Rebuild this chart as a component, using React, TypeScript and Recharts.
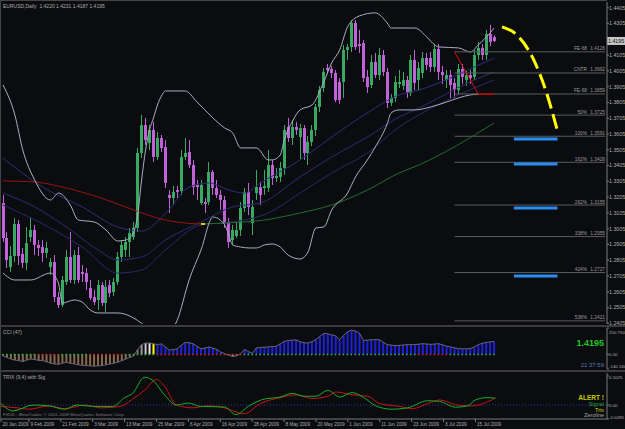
import React from "react";
import {
  ComposedChart,
  Bar,
  Line,
  XAxis,
  YAxis,
  ReferenceLine,
  Cell,
} from "recharts";

const FONT = '"Liberation Sans", Arial, Helvetica, sans-serif';
const BG = "#0b0c0f";
const FRAME = "#454545";
const AXIS = "#7a7a7a";
const LABEL = "#acacac";
const UP = "#38a862";
const DOWN = "#c262d8";

const TOTAL_BARS = 153;

// daily bars, [open, high, low, close]
const candles: [number, number, number, number][] = [
  [1.3168, 1.3219, 1.2921, 1.2946], [1.2946, 1.2984, 1.2756, 1.2807], [1.2762, 1.2895, 1.2731, 1.2832],
  [1.2832, 1.3073, 1.2794, 1.3035], [1.3035, 1.306, 1.2775, 1.2832], [1.2845, 1.2883, 1.2756, 1.2788],
  [1.2788, 1.3016, 1.2743, 1.2914], [1.2952, 1.3073, 1.2921, 1.2997], [1.2997, 1.3029, 1.2838, 1.2902],
  [1.2902, 1.2933, 1.2832, 1.2883], [1.2889, 1.2933, 1.2794, 1.2851], [1.2851, 1.2921, 1.2819, 1.2883],
  [1.2762, 1.2819, 1.2712, 1.2794], [1.2794, 1.2838, 1.254, 1.2572], [1.2572, 1.2604, 1.2502, 1.2521],
  [1.2521, 1.2705, 1.2509, 1.268], [1.2667, 1.287, 1.2648, 1.2826], [1.2826, 1.2984, 1.2661, 1.268],
  [1.268, 1.287, 1.2654, 1.2838], [1.2838, 1.2889, 1.2661, 1.268], [1.2731, 1.2775, 1.2667, 1.2718],
  [1.2724, 1.2756, 1.2617, 1.2667], [1.2629, 1.268, 1.2553, 1.2566], [1.2572, 1.2617, 1.2521, 1.254],
  [1.2553, 1.268, 1.249, 1.2648], [1.2648, 1.2667, 1.2515, 1.2534], [1.2534, 1.268, 1.2477, 1.2636],
  [1.2648, 1.268, 1.2572, 1.2597], [1.2604, 1.2693, 1.2578, 1.2667], [1.2667, 1.2857, 1.2648, 1.2826],
  [1.2826, 1.2933, 1.2794, 1.2902], [1.287, 1.2952, 1.2826, 1.2921], [1.2921, 1.301, 1.2826, 1.2978],
  [1.2952, 1.3048, 1.2933, 1.301], [1.301, 1.3517, 1.2984, 1.3485], [1.3485, 1.3726, 1.3453, 1.3662],
  [1.3662, 1.3707, 1.3536, 1.3567], [1.3548, 1.3662, 1.3504, 1.3631], [1.3631, 1.3682, 1.3428, 1.346],
  [1.346, 1.3618, 1.3441, 1.358], [1.358, 1.3599, 1.3491, 1.3517], [1.3523, 1.3567, 1.3263, 1.3295],
  [1.3219, 1.325, 1.3105, 1.32], [1.32, 1.3276, 1.3155, 1.3238], [1.325, 1.3276, 1.32, 1.3238],
  [1.3244, 1.3504, 1.3219, 1.346], [1.346, 1.358, 1.3441, 1.3485], [1.3491, 1.3567, 1.339, 1.3409],
  [1.3409, 1.3441, 1.3219, 1.3269], [1.3282, 1.3314, 1.3187, 1.3269], [1.3168, 1.3314, 1.3155, 1.3282],
  [1.3174, 1.32, 1.3105, 1.3162], [1.3174, 1.3428, 1.3155, 1.3365], [1.3365, 1.3377, 1.3219, 1.3263],
  [1.3263, 1.3314, 1.32, 1.3219], [1.3219, 1.325, 1.3124, 1.3187], [1.3187, 1.3212, 1.301, 1.3041],
  [1.3048, 1.3073, 1.2883, 1.2921], [1.2933, 1.3029, 1.2902, 1.2997], [1.2959, 1.3048, 1.2946, 1.2997],
  [1.2997, 1.3174, 1.2959, 1.3136], [1.3136, 1.3263, 1.3111, 1.3238], [1.3238, 1.3295, 1.3092, 1.3143],
  [1.3041, 1.3187, 1.2965, 1.3143], [1.3231, 1.3377, 1.3187, 1.3269], [1.3269, 1.3301, 1.3155, 1.3219],
  [1.3263, 1.3377, 1.3219, 1.3276], [1.3263, 1.3504, 1.3238, 1.3409], [1.3409, 1.3441, 1.3282, 1.3326],
  [1.3326, 1.339, 1.3301, 1.3339], [1.3333, 1.3428, 1.3301, 1.339], [1.339, 1.3662, 1.3346, 1.3631],
  [1.365, 1.3707, 1.3555, 1.358], [1.358, 1.3694, 1.3536, 1.365], [1.365, 1.3682, 1.3599, 1.3631],
  [1.3586, 1.3669, 1.3441, 1.3643], [1.3643, 1.3662, 1.3441, 1.3485], [1.3485, 1.3593, 1.3409, 1.3555],
  [1.3555, 1.3662, 1.3529, 1.3631], [1.3631, 1.3796, 1.3593, 1.3777], [1.3777, 1.391, 1.3745, 1.3884],
  [1.3897, 1.4024, 1.3872, 1.3999], [1.4024, 1.4049, 1.3986, 1.4011], [1.4018, 1.4037, 1.396, 1.3992],
  [1.3992, 1.4011, 1.3808, 1.3821], [1.3935, 1.396, 1.3796, 1.3821], [1.3935, 1.417, 1.3834, 1.4138],
  [1.4138, 1.4176, 1.4075, 1.4157], [1.4157, 1.4328, 1.4125, 1.4309], [1.4309, 1.4328, 1.4138, 1.4157],
  [1.4176, 1.4265, 1.4119, 1.4163], [1.4182, 1.4201, 1.3935, 1.396], [1.3967, 1.4011, 1.3865, 1.3903],
  [1.3916, 1.4106, 1.3897, 1.4062], [1.4062, 1.4119, 1.396, 1.3979], [1.3979, 1.4151, 1.3948, 1.4106],
  [1.4106, 1.4138, 1.3973, 1.3999], [1.3999, 1.4024, 1.377, 1.3802], [1.3802, 1.3859, 1.3783, 1.3834],
  [1.3834, 1.3973, 1.3808, 1.3935], [1.3922, 1.4011, 1.3897, 1.3935], [1.391, 1.3999, 1.3884, 1.3948],
  [1.3948, 1.3973, 1.3834, 1.3865], [1.3865, 1.4106, 1.3846, 1.4075], [1.4075, 1.4138, 1.3884, 1.3929],
  [1.3948, 1.4062, 1.3884, 1.4024], [1.3992, 1.4125, 1.396, 1.4087], [1.4087, 1.4119, 1.4011, 1.4043],
  [1.4087, 1.4125, 1.3999, 1.403], [1.403, 1.4176, 1.3999, 1.4144], [1.4144, 1.4176, 1.3948, 1.3999],
  [1.3999, 1.4037, 1.3922, 1.3979], [1.3948, 1.4011, 1.3897, 1.3979], [1.3979, 1.4011, 1.3834, 1.3916],
  [1.3929, 1.396, 1.3834, 1.3884], [1.3884, 1.4049, 1.3859, 1.4018], [1.4018, 1.4049, 1.3922, 1.3967],
  [1.3948, 1.4011, 1.391, 1.3979], [1.3979, 1.4011, 1.3922, 1.396], [1.3967, 1.4138, 1.3948, 1.4106],
  [1.4106, 1.4189, 1.4075, 1.4151], [1.4151, 1.4176, 1.4075, 1.4106], [1.4106, 1.4265, 1.4075, 1.4239],
  [1.4239, 1.4297, 1.4163, 1.4189], [1.422, 1.4231, 1.4187, 1.4195],
];

// Bollinger bands, [bar, price]
const bbUpper: [number, number][] = [
  [0, 1.3916], [3, 1.3726], [5, 1.3504], [8, 1.3314], [12, 1.3187], [14, 1.3231], [17, 1.3155],
  [19, 1.306], [23, 1.3048], [26, 1.2997], [29, 1.2927], [31, 1.2933], [33, 1.2984], [34, 1.3092],
  [35, 1.3314], [36, 1.3504], [37, 1.3631], [38, 1.3707], [39, 1.3789], [40, 1.3846], [41, 1.3878],
  [46, 1.3878], [49, 1.3808], [53, 1.3707], [56, 1.3643], [58, 1.3612], [60, 1.3517], [64, 1.3517],
  [67, 1.3441], [68, 1.3441], [70, 1.3472], [71, 1.3567], [73, 1.3682], [75, 1.3758], [78, 1.3789],
  [81, 1.3935], [83, 1.4056], [85, 1.4138], [87, 1.4284], [90, 1.4354], [94, 1.4373], [97, 1.4309],
  [98, 1.4277], [104, 1.4277], [107, 1.422], [109, 1.417], [110, 1.4157], [115, 1.4151], [118, 1.4125],
  [120, 1.417], [123, 1.4246], [124, 1.4277],
];
const bbLower: [number, number][] = [
  [0, 1.2724], [3, 1.268], [7, 1.268], [12, 1.2724], [14, 1.2661], [15, 1.2534], [18, 1.2553],
  [20, 1.254], [22, 1.249], [24, 1.2471], [29, 1.2471], [33, 1.2439], [35, 1.2405], [37, 1.236],
  [39, 1.233], [41, 1.233], [43, 1.2375], [44, 1.2426], [47, 1.268], [50, 1.287], [53, 1.3079],
  [56, 1.3029], [57, 1.2965], [58, 1.2902], [60, 1.2889], [62, 1.2883], [64, 1.2883], [66, 1.2902],
  [68, 1.2908], [70, 1.2889], [72, 1.2838], [75, 1.2813], [77, 1.2857], [79, 1.301], [81, 1.3016],
  [83, 1.3124], [87, 1.3231], [89, 1.3333], [92, 1.3441], [94, 1.3523], [97, 1.3669], [98, 1.3739],
  [100, 1.3758], [104, 1.3758], [108, 1.3777], [112, 1.3808], [115, 1.3834], [118, 1.3853],
  [121, 1.3859], [124, 1.3859],
];

// moving average ribbon
const ribbonA: [number, number][] = [
  [0, 1.3453], [10, 1.3269], [20, 1.3143], [29, 1.3016], [35, 1.299], [41, 1.31], [47, 1.3269],
  [52, 1.3295], [57, 1.325], [61, 1.3231], [65, 1.3295], [75, 1.3441], [83, 1.3586], [92, 1.3739],
  [100, 1.3853], [105, 1.3884], [119, 1.403], [124, 1.4087],
];
const ribbonB: [number, number][] = [
  [0, 1.3231], [8, 1.3143], [16, 1.3016], [24, 1.287], [29, 1.2807], [35, 1.2826], [41, 1.2933],
  [50, 1.3048], [58, 1.3143], [65, 1.3168], [75, 1.3333], [83, 1.346], [92, 1.3586], [100, 1.3713],
  [105, 1.377], [119, 1.3948], [124, 1.3999],
];
const ribbonC: [number, number][] = [
  [0, 1.3155], [12, 1.3009], [20, 1.2889], [29, 1.2724], [35, 1.2743], [41, 1.287], [50, 1.3029],
  [58, 1.3048], [67, 1.3105], [75, 1.3231], [83, 1.3358], [92, 1.3485], [100, 1.365], [105, 1.3726],
  [119, 1.3897], [124, 1.3948],
];

// long moving average, coloured by slope
const maFalling: [number, number][] = [
  [0, 1.3308], [8, 1.3301], [16, 1.3263], [24, 1.3206], [33, 1.3124], [39, 1.3073], [46, 1.3041], [50, 1.3035],
];
const maFlat: [number, number][] = [[50, 1.3035], [51, 1.3035]];
const maRising: [number, number][] = [
  [51, 1.3035], [56, 1.3041], [66, 1.306], [75, 1.3105], [83, 1.3155], [92, 1.325], [100, 1.3358],
  [105, 1.3409], [124, 1.3675],
];

// projected path
const projection: [number, number][] = [
  [126, 1.4284], [130, 1.4227], [134, 1.4075], [137, 1.3884], [140, 1.3624],
];

const fibStart = 114;
const fibEnd = 152;
const fibLevels = [
  { tag: "FE-68", price: 1.4126 },
  { tag: "CNTR", price: 1.3992 },
  { tag: "FE-68", price: 1.3859 },
  { tag: "50%", price: 1.3725 },
  { tag: "100%", price: 1.3591 },
  { tag: "162%", price: 1.3426 },
  { tag: "262%", price: 1.3155 },
  { tag: "338%", price: 1.2955 },
  { tag: "424%", price: 1.2727 },
  { tag: "538%", price: 1.2421 },
];
const targetLevels = [1.3574, 1.3415, 1.3136, 1.2705];
const swingDown: [number, number][] = [[114, 1.4126], [120, 1.3859]];
const swingBase: [number, number][] = [[120, 1.3859], [124, 1.3859]];

const priceTicks = [
  1.4405, 1.4305, 1.4105, 1.4005, 1.3905, 1.3805, 1.3705, 1.3605, 1.3505, 1.3405, 1.3305,
  1.3205, 1.3105, 1.3005, 1.2905, 1.2805, 1.2705, 1.2605, 1.2505, 1.2405,
];
const lastClose = 1.4195;

// CCI(47), one value per bar
const cciValues = [
  -15, -30, -45, -55, -60, -70, -55, -45, -50, -58, -60, -72, -85, -92, -95, -85, -77, -85, -92, -100,
  -105, -108, -110, -113, -110, -107, -100, -92, -85, -75, -61, -45, -30, -15,
  46, 92, 107, 107, 100,
  92, 100, 70, 40, 45, 52, 85, 113, 110, 100, 75, 52, 60, 70, 58, 46, 20, 5, -9, -21, -15, 5,
  46, 25, 9, 61, 65, 68, 70, 74, 77, 100, 123, 130, 135, 138, 120, 110, 107, 120, 138, 170,
  200, 195, 185, 175, 138, 180, 215, 230, 222, 200, 132, 135, 138, 140, 138, 115, 92, 88, 83, 85,
  88, 92, 92, 92, 97, 101, 98, 95, 98, 101, 90, 77, 70, 61, 55, 52, 52, 55, 70, 92, 105, 113, 118, 123,
];
// colour runs of the dotted zero line
const cciZeroRuns: [string, number][] = [
  ["#1fbf3a", 9], ["#d02020", 6], ["#1fbf3a", 7], ["#d02020", 9], ["#1fbf3a", 8],
  ["#d02020", 22], ["#1fbf3a", 44], ["#d02020", 8], ["#1fbf3a", 12],
];

// TRIX(9,4) and signal, [bar, value]
const trixLine: [number, number][] = [
  [0, 0.005], [3, -0.021], [8, 0], [12, -0.003], [16, -0.015], [19, 0], [23, -0.005], [28, -0.005],
  [31, 0.026], [33, 0.041], [36, 0.098], [38, 0.088], [41, 0.036], [44, 0], [47, 0.007], [50, -0.005],
  [56, -0.007], [59, -0.034], [62, -0.005], [66, 0.021], [70, 0.028], [73, 0.041], [76, 0.031],
  [79, 0.031], [82, 0.052], [85, 0.028], [88, 0.044], [91, 0.026], [94, -0.003], [98, -0.015],
  [102, -0.01], [107, 0.015], [110, 0.013], [114, -0.008], [117, -0.003], [119, 0.018], [122, 0.026],
  [124, 0.024],
];
const trixSignal: [number, number][] = [
  [0, -0.005], [4, -0.01], [7, -0.015], [12, -0.003], [16, -0.013], [21, 0], [25, -0.01], [30, -0.005],
  [33, 0.021], [36, 0.052], [39, 0.09], [41, 0.067], [44, 0], [48, -0.01], [52, -0.003], [56, -0.01],
  [61, -0.031], [65, 0.005], [70, 0.026], [74, 0.036], [78, 0.023], [82, 0.031], [84, 0.046],
  [88, 0.036], [92, 0.031], [95, 0.005], [100, -0.005], [103, -0.013], [108, 0.01], [110, 0.018],
  [115, -0.002], [118, -0.003], [124, 0.024],
];

const dateTicks: [number, string][] = [
  [0, "20 Jan 2009"], [7, "9 Feb 2009"], [15, "21 Feb 2009"], [23, "3 Mar 2009"], [31, "13 Mar 2009"],
  [39, "25 Mar 2009"], [47, "6 Apr 2009"], [55, "16 Apr 2009"], [63, "28 Apr 2009"], [71, "8 May 2009"],
  [79, "20 May 2009"], [87, "1 Jun 2009"], [95, "11 Jun 2009"], [103, "23 Jun 2009"], [111, "3 Jul 2009"],
  [119, "15 Jul 2009"],
];

const lookup = (pts: [number, number][]) => {
  const m = new Map(pts);
  return (i: number) => (m.has(i) ? (m.get(i) as number) : null);
};
const zeroColors: string[] = [];
cciZeroRuns.forEach(([c, n]) => {
  for (let k = 0; k < n; k++) zeroColors.push(c);
});

const get = {
  bbU: lookup(bbUpper), bbL: lookup(bbLower),
  rA: lookup(ribbonA), rB: lookup(ribbonB), rC: lookup(ribbonC),
  maF: lookup(maFalling), maY: lookup(maFlat), maR: lookup(maRising),
  proj: lookup(projection), trix: lookup(trixLine), sig: lookup(trixSignal),
};

const rows = Array.from({ length: TOTAL_BARS }, (_, i) => {
  const c = candles[i];
  const row: any = { i };
  if (c) {
    row.o = c[0]; row.h = c[1]; row.l = c[2]; row.c = c[3];
    row.range = [c[2], c[1]];
    row.cci = cciValues[i];
    row.zero = 0;
  }
  Object.entries(get).forEach(([k, f]) => {
    row[k] = f(i);
  });
  return row;
});

function Candle(props: any) {
  const { x, y, width, height, payload } = props;
  if (!payload || payload.o == null) return null;
  const { o, h, l, c } = payload;
  const col = c >= o ? UP : DOWN;
  const k = height / (h - l || 1);
  const cx = Math.round(x + width / 2) + 0.5;
  const top = y + (h - Math.max(o, c)) * k;
  const bh = Math.max(1, Math.abs(o - c) * k);
  return (
    <g>
      <line x1={cx} x2={cx} y1={y} y2={y + height} stroke={col} strokeWidth={1} />
      <rect x={cx - 1.5} y={top} width={3} height={bh} fill={col} />
    </g>
  );
}

const lineEnds = (vb: any) => {
  const right = vb.x2 != null ? Math.max(vb.x1, vb.x2) : (vb.x ?? 0) + (vb.width ?? 0);
  const y = vb.y1 != null ? vb.y1 : vb.y ?? 0;
  return { right, y };
};

function FibLabel(props: any) {
  const { right, y } = lineEnds(props.viewBox || {});
  return (
    <g fontFamily={FONT} fontSize={4.8} fill="#9a9a9a">
      <text x={right - 18} y={y - 1.5} textAnchor="end">{props.tag}</text>
      <text x={right} y={y - 1.5} textAnchor="end">{props.lvl.toFixed(4)}</text>
    </g>
  );
}

function PriceTag(props: any) {
  const { right, y } = lineEnds(props.viewBox || {});
  return (
    <g>
      <rect x={right} y={y - 4} width={18} height={8} fill="#c4c4c4" />
      <text x={right + 1} y={y + 2} fontSize={5.3} fontFamily={FONT} fill="#101010">
        {props.lvl.toFixed(4)}
      </text>
    </g>
  );
}

const dateMap = new Map(dateTicks);
function DateTick(props: any) {
  const { x, y, payload } = props;
  return (
    <g>
      <line x1={x} x2={x} y1={y} y2={y + 3} stroke={AXIS} />
      <text x={x + 1.5} y={y + 7} fill={LABEL} fontSize={4.7} fontFamily={FONT}>
        {dateMap.get(payload.value) ?? ""}
      </text>
    </g>
  );
}

// right-hand value label for an indicator pane, kept inside the pane
const paneTick = (fmt: (v: number) => string, lo: number, hi: number) =>
  function PaneTick(props: any) {
    const { x, y, payload } = props;
    const yy = Math.min(Math.max(y, lo), hi);
    return (
      <g>
        <line x1={x} x2={x + 2} y1={y} y2={y} stroke={AXIS} />
        <text x={x + 2} y={yy + 1.7} fontSize={4.4} fontFamily={FONT} fill={LABEL}>
          {fmt(payload.value)}
        </text>
      </g>
    );
  };
const CciTick = paneTick((v) => (v === 0 ? "0.00" : v.toFixed(3)), 5, 39);
const TrixTick = paneTick((v) => (v === 0 ? "0.00" : v.toFixed(4)), 5, 45);

function ZeroDot(props: any) {
  const { cx, cy, index } = props;
  if (cy == null || index >= zeroColors.length) return <g key={`z${index}`} />;
  return <rect key={`z${index}`} x={cx - 1} y={cy - 0.5} width={1.5} height={1.5} fill={zeroColors[index]} />;
}

function cciColor(i: number, v: number) {
  if (i < 34) return "#8a6a4e";
  if (i === 34) return "#6e6e6e";
  if (i === 35) return "#9c9c9c";
  if (i === 36) return "#c4c4c4";
  if (i === 37) return "#e4e4e4";
  if (i === 38) return "#ffff00";
  return v < 0 ? "#a0a0b0" : "#2020dc";
}

const thin = { dot: false, isAnimationActive: false, connectNulls: true, activeDot: false } as const;

const text = (extra: React.CSSProperties): React.CSSProperties => ({
  position: "absolute",
  fontFamily: FONT,
  fontSize: 5,
  lineHeight: 1,
  whiteSpace: "nowrap",
  color: LABEL,
  ...extra,
});

export default function App() {
  return (
    <div style={{ position: "relative", width: 625, height: 429, background: BG, overflow: "hidden" }}>
      <style>{"body{margin:0;background:#0b0c0f}"}</style>

      <div style={{ position: "absolute", left: 0, top: 0 }}>
        <ComposedChart width={625} height={325} data={rows} margin={{ top: 2, right: 0, bottom: 1, left: 1 }}>
          <XAxis dataKey="i" hide />
          <YAxis
            orientation="right"
            width={18}
            domain={[1.2401, 1.4442]}
            allowDataOverflow
            ticks={priceTicks}
            interval={0}
            tickFormatter={(v: number) => v.toFixed(4)}
            tick={{ fill: LABEL, fontSize: 5.3, fontFamily: FONT }}
            tickSize={2}
            tickMargin={0}
            stroke={AXIS}
          />
          <Line dataKey="rC" stroke="#2a2a6c" strokeWidth={1} type="monotone" {...thin} />
          <Line dataKey="rB" stroke="#2c2c74" strokeWidth={1} type="monotone" {...thin} />
          <Line dataKey="rA" stroke="#2e2e7a" strokeWidth={1} type="monotone" {...thin} />
          <Line dataKey="maF" stroke="#9a1212" strokeWidth={1} type="monotone" {...thin} />
          <Line dataKey="maY" stroke="#e0d000" strokeWidth={2} type="linear" {...thin} />
          <Line dataKey="maR" stroke="#1f6e2c" strokeWidth={1} type="monotone" {...thin} />
          <Line dataKey="bbU" stroke="#a6afc0" strokeWidth={1} type="monotone" {...thin} />
          <Line dataKey="bbL" stroke="#a6afc0" strokeWidth={1} type="monotone" {...thin} />
          {fibLevels.map((f, k) => (
            <ReferenceLine
              key={`fib${k}`}
              segment={[{ x: fibStart, y: f.price }, { x: fibEnd, y: f.price }]}
              stroke="#5c5c5c"
              strokeWidth={1}
              ifOverflow="visible"
              label={<FibLabel tag={f.tag} lvl={f.price} />}
            />
          ))}
          <Bar dataKey="range" shape={Candle} barSize={3} isAnimationActive={false} />
          <ReferenceLine
            segment={[{ x: swingDown[0][0], y: swingDown[0][1] }, { x: swingDown[1][0], y: swingDown[1][1] }]}
            stroke="#d01010"
            strokeWidth={1}
          />
          <ReferenceLine
            segment={[{ x: swingBase[0][0], y: swingBase[0][1] }, { x: swingBase[1][0], y: swingBase[1][1] }]}
            stroke="#a01010"
            strokeWidth={2}
          />
          {targetLevels.map((p, k) => (
            <ReferenceLine
              key={`tg${k}`}
              segment={[{ x: 129, y: p }, { x: 140, y: p }]}
              stroke="#2a8cf0"
              strokeWidth={3}
            />
          ))}
          <Line
            dataKey="proj"
            stroke="#ffff00"
            strokeWidth={3}
            strokeDasharray="15 6"
            type="monotone"
            {...thin}
          />
          <ReferenceLine
            y={lastClose}
            stroke="none"
            ifOverflow="visible"
            label={<PriceTag lvl={lastClose} />}
          />
        </ComposedChart>
      </div>

      <div style={{ position: "absolute", left: 0, top: 327 }}>
        <ComposedChart width={625} height={43} data={rows} margin={{ top: 1, right: 0, bottom: 1, left: 1 }}>
          <XAxis dataKey="i" hide />
          <YAxis
            orientation="right"
            width={18}
            domain={[-140.16, 250.75]}
            allowDataOverflow
            ticks={[250.75, 0, -140.16]}
            interval={0}
            tick={<CciTick />}
            tickLine={false}
            tickSize={0}
            tickMargin={0}
            stroke={AXIS}
          />
          <Bar dataKey="cci" barSize={2} isAnimationActive={false}>
            {rows.map((r) => (
              <Cell key={`c${r.i}`} fill={r.cci == null ? "none" : cciColor(r.i, r.cci)} />
            ))}
          </Bar>
          <Line dataKey="cci" stroke="#676777" strokeWidth={1} type="linear" dot={false} activeDot={false} isAnimationActive={false} />
          <Line dataKey="zero" stroke="none" dot={ZeroDot} activeDot={false} isAnimationActive={false} />
        </ComposedChart>
      </div>

      <div style={{ position: "absolute", left: 0, top: 372 }}>
        <ComposedChart width={625} height={57} data={rows} margin={{ top: 1, right: 0, bottom: 0, left: 1 }}>
          <XAxis
            dataKey="i"
            ticks={dateTicks.map((d) => d[0])}
            interval={0}
            height={10}
            tickLine={false}
            tickSize={0}
            tickMargin={0}
            axisLine={{ stroke: AXIS }}
            tick={<DateTick />}
          />
          <YAxis
            orientation="right"
            width={18}
            domain={[-0.0495, 0.1131]}
            allowDataOverflow
            ticks={[0.1025, 0, -0.0495]}
            interval={0}
            tick={<TrixTick />}
            tickLine={false}
            tickSize={0}
            tickMargin={0}
            stroke={AXIS}
          />
          <ReferenceLine y={0} stroke="#3434a8" strokeDasharray="1 2" />
          <Line dataKey="sig" stroke="#c81414" strokeWidth={1} type="monotone" {...thin} />
          <Line dataKey="trix" stroke="#14b024" strokeWidth={1} type="monotone" {...thin} />
        </ComposedChart>
      </div>

      {/* panel frame */}
      <div style={{ position: "absolute", left: 0, top: 0, width: 1, height: 419, background: FRAME }} />
      <div style={{ position: "absolute", left: 0, top: 0, width: 607, height: 1, background: FRAME }} />
      <div style={{ position: "absolute", left: 0, top: 325, width: 625, height: 2, background: "#3c3c3c" }} />
      <div style={{ position: "absolute", left: 0, top: 370, width: 625, height: 2, background: "#3c3c3c" }} />

      <div style={text({ left: 3, top: 4 })}>EURUSD,Daily&nbsp; 1.4220 1.4231 1.4187 1.4195</div>
      <div style={text({ left: 3, top: 330 })}>CCI (47)</div>
      <div style={text({ right: 21, top: 339, fontSize: 9, fontWeight: 700, color: "#22c422" })}>1.4195</div>
      <div style={text({ right: 21, top: 362, fontSize: 6, color: "#5a78b8" })}>21:37:59</div>
      <div style={text({ left: 3, top: 375 })}>TRIX (9,4) with Sig</div>
      <div style={text({ left: 3, top: 413, fontSize: 4.4, color: "#7c7c7c" })}>
        FXDD - MetaTrader, © 2001-2009 MetaQuotes Software Corp.
      </div>
      <div style={text({ right: 21, top: 395, fontSize: 6.5, fontWeight: 700, color: "#c8c800" })}>ALERT !</div>
      <div style={text({ right: 21, top: 402, fontSize: 5.5, color: "#20a830" })}>Signal</div>
      <div style={text({ right: 21, top: 407.5, fontSize: 5.5, color: "#d8d800" })}>Trix</div>
      <div style={text({ right: 21, top: 413, fontSize: 5.5, color: "#a8a8a8" })}>Zeroline</div>
    </div>
  );
}
